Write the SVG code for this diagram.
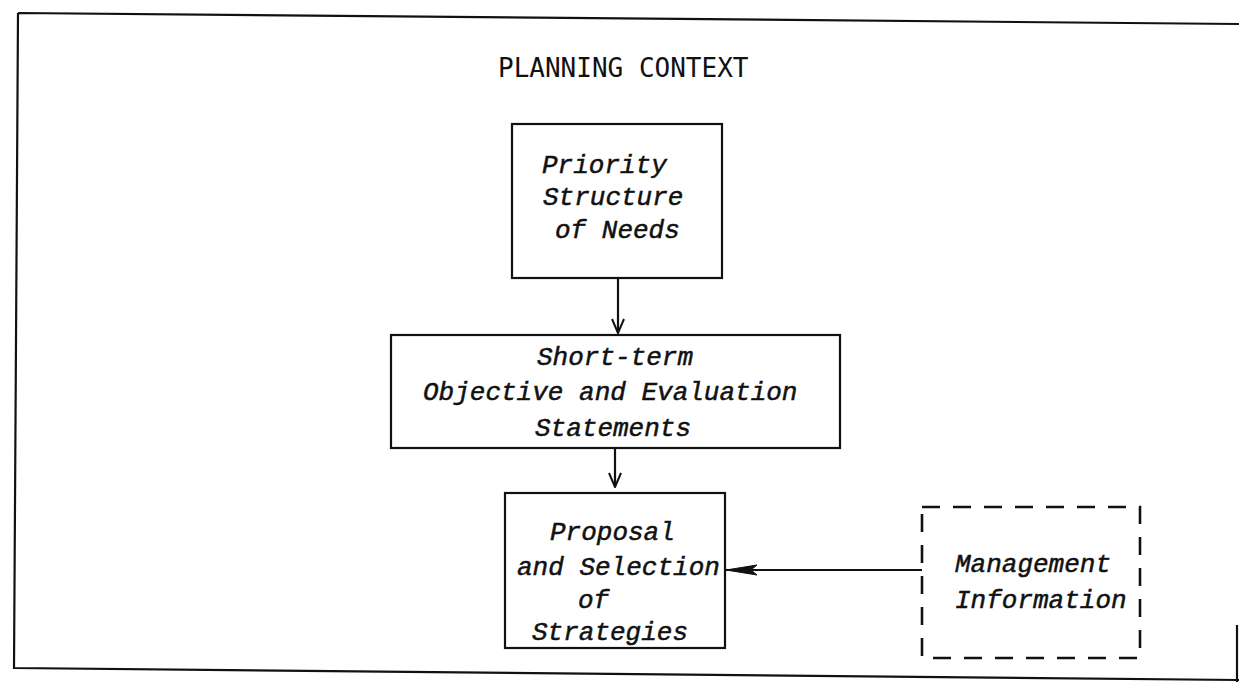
<svg xmlns="http://www.w3.org/2000/svg" width="1239" height="682" viewBox="0 0 1239 682">
<style>
.frame{fill:none;stroke:#111;stroke-width:2.2}
.box{fill:none;stroke:#111;stroke-width:2.2}
.dash{fill:none;stroke:#111;stroke-width:2.6;stroke-dasharray:18 13}
.lbl{font-family:"Liberation Mono","Courier New",monospace;font-style:italic;font-size:26px;fill:#111;stroke:#111;stroke-width:0.5}
.title{font-family:"DejaVu Sans Mono","Liberation Mono",monospace;font-size:26px;fill:#111}
.conn{fill:none;stroke:#111;stroke-width:2.2}
</style>
<defs>
<marker id="openHead" viewBox="0 0 16 14" refX="15" refY="7" markerWidth="16" markerHeight="14" markerUnits="userSpaceOnUse" orient="auto">
<path d="M1,1 L15,7 L1,13" fill="none" stroke="#111" stroke-width="2"/>
</marker>
<marker id="solidHead" viewBox="0 0 32 12" refX="31" refY="6" markerWidth="32" markerHeight="12" markerUnits="userSpaceOnUse" orient="auto">
<path d="M0,1 L31,6 L0,11 L6,6 Z" fill="#111" stroke="#111" stroke-width="1"/>
</marker>
</defs>
<rect width="1239" height="682" fill="#fff"/>
<g id="frame">
<path class="frame" d="M18,13 L1239,24 M18,13 L14,668 L1239,680 M1237,625 L1237,682"/>
<text class="title" x="498" y="77">PLANNING CONTEXT</text>
</g>
<g id="connectors">
<path class="conn" d="M618,278 L618,333" marker-end="url(#openHead)"/>
<path class="conn" d="M615,448 L615,487" marker-end="url(#openHead)"/>
<path class="conn" d="M922,570 L726,570" marker-end="url(#solidHead)"/>
</g>
<g id="priority">
<rect class="box" x="512" y="124" width="210" height="154"/>
<text class="lbl" x="542" y="173">Priority</text>
<text class="lbl" x="543" y="205">Structure</text>
<text class="lbl" x="555" y="238">of Needs</text>
</g>
<g id="objective">
<rect class="box" x="391" y="335" width="449" height="113"/>
<text class="lbl" x="537" y="365">Short-term</text>
<text class="lbl" x="423" y="400">Objective and Evaluation</text>
<text class="lbl" x="535" y="436">Statements</text>
</g>
<g id="proposal">
<rect class="box" x="505" y="493" width="220" height="155"/>
<text class="lbl" x="550" y="540">Proposal</text>
<text class="lbl" x="517" y="575">and Selection</text>
<text class="lbl" x="578" y="608">of</text>
<text class="lbl" x="532" y="640">Strategies</text>
</g>
<g id="management">
<rect class="dash" x="922" y="507" width="218" height="151"/>
<text class="lbl" x="955" y="572">Management</text>
<text class="lbl" x="955" y="608">Information</text>
</g>
</svg>
